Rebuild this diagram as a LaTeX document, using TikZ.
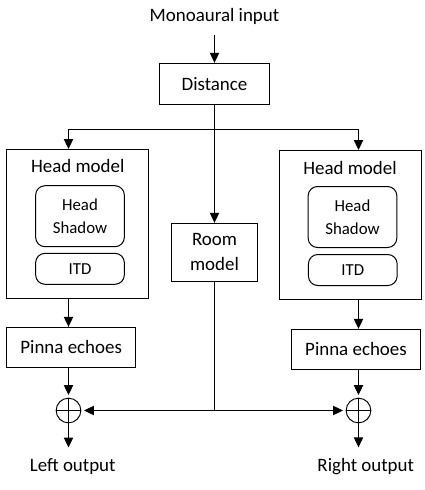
\documentclass[tikz,border=0pt]{standalone}
\usepackage{fontspec}
\setmainfont{Carlito}
\usetikzlibrary{positioning,arrows.meta}
\tikzset{
  bx/.style={rectangle, draw=black, line width=0.75pt, text centered, align=center, font=\fontsize{14.2}{18.5}\selectfont},
  gr/.style={rectangle, draw=black, line width=0.75pt, minimum width=106.5pt, minimum height=111.75pt},
  sb/.style={rectangle, rounded corners=7pt, draw=black, line width=0.75pt, minimum width=66.5pt, text centered, align=center, font=\fontsize{12.6}{17}\selectfont},
  tx/.style={font=\fontsize{14.2}{17}\selectfont, inner ysep=8pt},
  sm/.style={circle, draw=black, line width=0.7pt, minimum size=18.5pt, inner sep=0pt,
    path picture={\draw[line width=0.7pt] (path picture bounding box.north) -- (path picture bounding box.south)
      (path picture bounding box.west) -- (path picture bounding box.east);}}
}
\begin{document}
\begin{tikzpicture}[x=0.75pt, y=-0.75pt, line width=0.75pt, >={Triangle[length=7.5pt,width=7pt]}]
	\useasboundingbox (0,0) rectangle (425,490);
	\node[tx] (input) at (214.5,16) {Monoaural input};
	\node[bx, minimum width=82.5pt, minimum height=30.75pt] (dist) at (214.5,83.8) {Distance};
	\coordinate (branch) at (214.5,129.5);
	%
	\node[gr] (headL) at (77.5,224) {};
	\node[tx, inner ysep=3pt] (titleL) at (77.7,166) {Head model};
	\node[sb, minimum height=45.75pt] (shadowL) at (80,216.2) {Head\\Shadow};
	\node[sb, minimum height=23.25pt] (itdL) at (80,268.8) {ITD};
	%
	\node[gr] (headR) at (350.5,225) {};
	\node[tx, inner ysep=3pt] (titleR) at (350,168) {Head model};
	\node[sb, minimum height=45.75pt] (shadowR) at (352.5,217) {Head\\Shadow};
	\node[sb, minimum height=23.25pt] (itdR) at (352.8,270) {ITD};
	%
	\node[bx, minimum width=64.2pt, minimum height=43.5pt] (room) at (214.5,252.3) {Room\\model};
	\node[bx, minimum width=96.75pt, minimum height=30pt] (pinnaL) at (71.2,347.3) {Pinna echoes};
	\node[bx, minimum width=96.5pt, minimum height=30pt] (pinnaR) at (356,349.3) {Pinna echoes};
	\node[sm] (sumL) at (68.5,410.5) {};
	\node[sm] (sumR) at (358.5,410.5) {};
	\node[tx] (outL) at (72.7,466.7) {Left output};
	\node[tx] (outR) at (365.7,466.7) {Right output};
	%
	\draw[->] (input) -- (dist);
	\draw[->] (dist) -- (room);
	\draw[->] (branch) -| (sumL |- headL.north);
	\draw[->] (branch) -| (sumR |- headR.north);
	\draw[->] (sumL |- headL.south) -- (sumL |- pinnaL.north);
	\draw[->] (sumR |- headR.south) -- (sumR |- pinnaR.north);
	\draw[->, shorten >=2pt] (sumL |- pinnaL.south) -- (sumL);
	\draw[->, shorten >=2pt] (sumR |- pinnaR.south) -- (sumR);
	\draw (room) -- (room |- sumL) coordinate (join);
	\draw[->, shorten >=2pt] (join) -- (sumL);
	\draw[->, shorten >=2pt] (join) -- (sumR);
	\draw[->] (sumL) -- (sumL |- outL.north);
	\draw[->] (sumR) -- (sumR |- outR.north);
\end{tikzpicture}
\end{document}
